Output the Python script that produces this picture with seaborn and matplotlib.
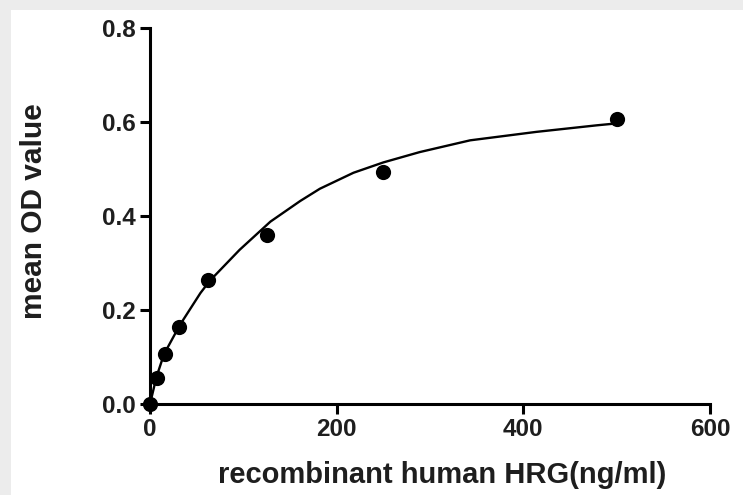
import numpy as np
import pandas as pd
import seaborn as sns
import matplotlib.pyplot as plt
from matplotlib.patches import Rectangle

# standard points (ng/ml) and mean OD
conc = [0, 7.8, 15.6, 31.25, 62.5, 125, 250, 500]
od = [0.0, 0.055, 0.107, 0.163, 0.263, 0.359, 0.494, 0.607]

# fitted curve
curve_x = [0, 7, 15, 32, 54, 64, 96, 129, 161, 182, 218, 250, 289, 343, 414, 479, 500]
curve_y = [0.0, 0.058, 0.106, 0.168, 0.236, 0.262, 0.328, 0.388, 0.432, 0.458, 0.492,
           0.514, 0.536, 0.561, 0.579, 0.593, 0.597]

x_ticks = [0, 200, 400, 600]
y_ticks = [0.0, 0.2, 0.4, 0.6, 0.8]

sns.set_style("white")
plt.rcParams['font.family'] = ['Liberation Sans', 'DejaVu Sans']

fig = plt.figure(figsize=(7.43, 4.95), dpi=100)
fig.patch.set_facecolor('#ececec')
# white panel, with the grey strip at the top and left
fig.patches.append(Rectangle((11 / 743, 0), 1, 1 - 10 / 495, transform=fig.transFigure,
                             facecolor='white', edgecolor='none', zorder=-1))

ax = fig.add_axes([150 / 743, 1 - 404 / 495, 560 / 743, 376 / 495])
ax.set_facecolor('none')

df_pts = pd.DataFrame({'conc': conc, 'od': od})
df_fit = pd.DataFrame({'x': curve_x, 'y': curve_y})

sns.lineplot(data=df_fit, x='x', y='y', estimator=None, sort=False, color='black',
             linewidth=1.7, ax=ax)
sns.scatterplot(data=df_pts, x='conc', y='od', color='black', s=120, edgecolor='black',
                linewidth=0, ax=ax, clip_on=False, zorder=5)

ax.set_xlim(0, 600)
ax.set_ylim(0, 0.8)
ax.set_xticks(x_ticks)
ax.set_yticks(y_ticks)
ax.set_yticklabels([f'{v:.1f}' for v in y_ticks])

sns.despine(ax=ax)
for s in ['left', 'bottom']:
    ax.spines[s].set_linewidth(2.2)
    ax.spines[s].set_color('black')
ax.tick_params(axis='both', direction='out', length=7, width=2.2, color='black',
               labelsize=17.5, pad=3, bottom=True, left=True)
for lab in ax.get_xticklabels() + ax.get_yticklabels():
    lab.set_fontweight('bold')
    lab.set_color('#1e1e1e')

ax.set_xlabel('recombinant human HRG(ng/ml)', fontsize=21, fontweight='bold',
              color='#1e1e1e')
ax.set_ylabel('mean OD value', fontsize=21.5, fontweight='bold', color='#1e1e1e')
ax.xaxis.set_label_coords(0.521, -0.152)
ax.yaxis.set_label_coords(-0.182, 0.512)

fig.savefig('out.png', dpi=100, facecolor=fig.get_facecolor())
